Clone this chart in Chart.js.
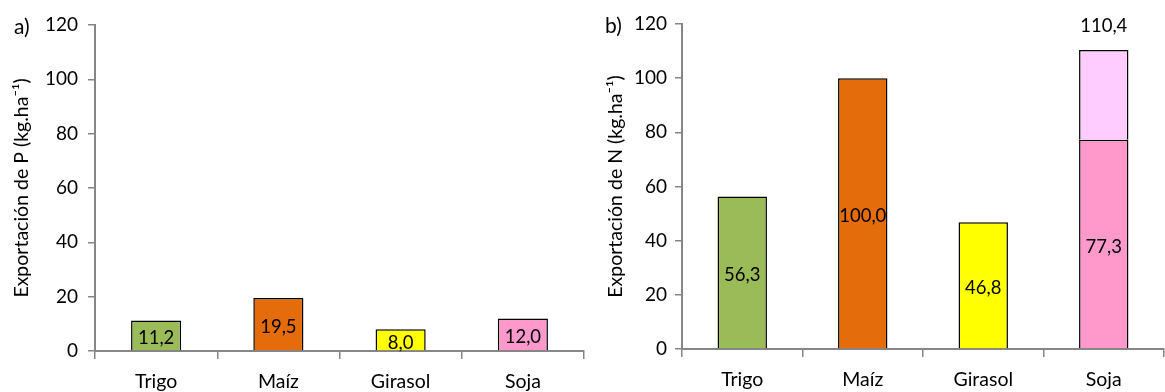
<!DOCTYPE html>
<html>
<head>
<meta charset="utf-8">
<script src="https://cdn.jsdelivr.net/npm/chart.js@4.4.0/dist/chart.umd.min.js"></script>
<style>
  body { margin: 0; background: #fff; width: 1165px; height: 392px; position: relative; overflow: hidden; font-family: Lato, sans-serif; }
  canvas { position: absolute; top: 0; }
  .tag { position: absolute; font-size: 21px; color: #000; line-height: 1; }
</style>
</head>
<body>
<canvas id="chartP" width="587" height="392" style="left:0"></canvas>
<canvas id="chartN" width="578" height="392" style="left:587px"></canvas>
<div class="tag" style="left:14px; top:15px">a)</div>
<div class="tag" style="left:605px; top:14px">b)</div>
<script>
// Datos de exportación por cultivo
const cultivos = ["Trigo", "Maíz", "Girasol", "Soja"];
const exportP = [11.2, 19.5, 8.0, 12.0];
const exportN = [56.3, 100.0, 46.8, 77.3];
const exportNExtra = [null, null, null, 33.1]; // parte superior de la barra de soja (total 110,4)
const yMax = 120;
const yStep = 20;

const colores = ["#9BBB59", "#E46C0A", "#FFFF00", "#FF99CC"];
const colorExtra = "#FFCCFF";
const gris = "#868686";
const fuente = "Lato";

const fmt = (v) => v.toFixed(1).replace(".", ",");

// Etiquetas de valor dentro de las barras y total encima de la barra apilada
const etiquetas = {
  id: "etiquetas",
  afterDatasetsDraw(chart) {
    const ctx = chart.ctx;
    ctx.save();
    ctx.font = "18.5px " + fuente;
    ctx.fillStyle = "#000";
    ctx.textAlign = "center";
    ctx.textBaseline = "middle";
    const base = chart.data.datasets[0].data;
    chart.getDatasetMeta(0).data.forEach((bar, i) => {
      ctx.fillText(fmt(base[i]), bar.x, (bar.y + bar.base) / 2 + 3);
    });
    if (chart.data.datasets.length > 1) {
      const extra = chart.data.datasets[1].data;
      chart.getDatasetMeta(1).data.forEach((bar, i) => {
        if (extra[i] == null) return;
        ctx.fillText(fmt(base[i] + extra[i]), bar.x, bar.y - 24);
      });
    }
    ctx.restore();
  },
};

function crearGrafico(id, datasets, tituloY, cfg) {
  return new Chart(document.getElementById(id).getContext("2d"), {
    type: "bar",
    data: { labels: cultivos, datasets: datasets },
    plugins: [etiquetas],
    options: {
      responsive: false,
      animation: false,
      layout: { padding: { top: cfg.top, right: cfg.right, left: 0, bottom: 0 } },
      plugins: { legend: { display: false }, tooltip: { enabled: false } },
      scales: {
        x: {
          stacked: true,
          grid: { offset: true, drawOnChartArea: false, tickLength: 8, color: gris, lineWidth: 1.5 },
          border: { color: gris, width: 2 },
          ticks: { font: { family: fuente, size: 19.5 }, color: "#000", padding: cfg.xPad },
          afterFit: (s) => { s.height = cfg.xHeight; },
        },
        y: {
          stacked: true,
          min: 0,
          max: yMax,
          ticks: { stepSize: yStep, font: { family: fuente, size: 19 }, color: "#000", padding: cfg.yPad },
          grid: { drawOnChartArea: false, tickLength: 7, color: gris, lineWidth: 1.5 },
          border: { color: gris, width: 2 },
          title: {
            display: true,
            text: tituloY,
            color: "#000",
            font: { family: fuente, size: 19.5 },
            padding: { top: cfg.titlePad, bottom: 0 },
          },
          afterFit: (s) => { s.width = 95; },
        },
      },
    },
  });
}

const estiloBarra = { borderColor: "#000", borderWidth: 1.5, categoryPercentage: 1, barPercentage: 0.41, borderSkipped: "bottom" };

crearGrafico("chartP", [
  { data: exportP, backgroundColor: colores, ...estiloBarra },
], "Exportación de P (kg.ha⁻¹)", { top: 25, right: 3, xHeight: 41, xPad: 11, yPad: 10, titlePad: 10 });

crearGrafico("chartN", [
  { data: exportN, backgroundColor: colores, ...estiloBarra },
  { data: exportNExtra, backgroundColor: colorExtra, ...estiloBarra },
], "Exportación de N (kg.ha⁻¹)", { top: 24, right: 1, xHeight: 43, xPad: 11, yPad: 8, titlePad: 17 });
</script>
</body>
</html>
